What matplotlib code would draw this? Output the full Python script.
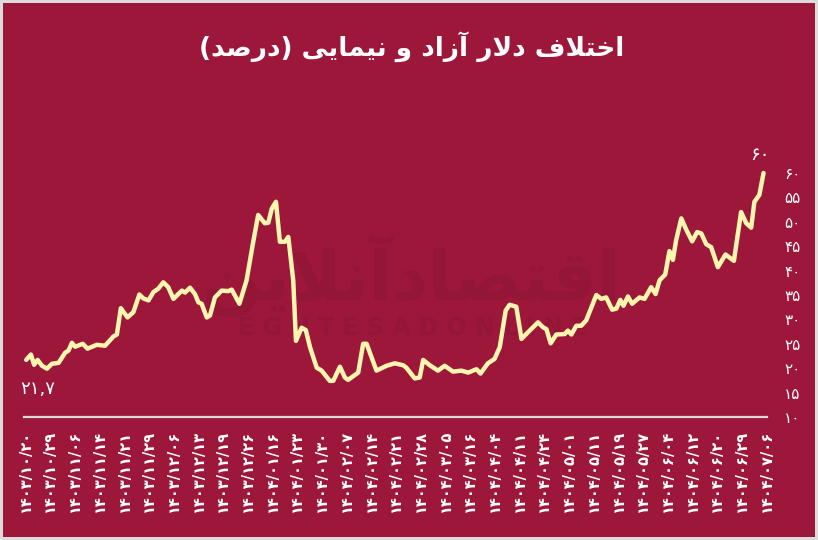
import matplotlib.pyplot as plt
from matplotlib.patches import Rectangle

# Persian text is given in visual order with Arabic presentation forms,
# since matplotlib does no Arabic shaping or right-to-left layout.
title = "(\uFEAA\uFEBB\uFEAD\uFEA9) \uFBFD\uFBFE\uFE8E\uFEE4\uFBFF\uFEE7 \uFEED \uFEA9\uFE8D\uFEAF\uFE81 \uFEAD\uFEFB\uFEA9 \uFED1\uFEFC\uFE98\uFEA7\uFE8D"
watermark_fa = "\uFEE6\uFBFE\uFEFC\uFEE7\uFE81\uFEA9\uFE8E\uFEBC\uFE98\uFED7\uFE8D"
watermark_en = "E G H T E S A D O N L I N E"

dates = ["1403/10/20", "1403/10/29", "1403/11/06", "1403/11/14", "1403/11/21",
         "1403/11/29", "1403/12/06", "1403/12/13", "1403/12/19", "1403/12/26",
         "1404/01/16", "1404/01/23", "1404/01/30", "1404/02/07", "1404/02/14",
         "1404/02/21", "1404/02/28", "1404/03/05", "1404/03/16", "1404/04/04",
         "1404/04/11", "1404/04/24", "1404/05/01", "1404/05/11", "1404/05/19",
         "1404/05/27", "1404/06/04", "1404/06/12", "1404/06/20", "1404/06/29",
         "1404/07/06"]

# position of each reading, in units of the date labels above
pos = [0.04, 0.23, 0.36, 0.50, 0.68, 0.88, 1.08, 1.35, 1.62, 1.75,
       1.89, 2.02, 2.33, 2.52, 2.90, 3.23, 3.57, 3.71, 3.87, 4.14,
       4.38, 4.62, 4.78, 4.99, 5.19, 5.39, 5.59, 5.79, 6.00, 6.34,
       6.47, 6.67, 6.87, 7.01, 7.14, 7.35, 7.48, 7.68, 7.95, 8.22,
       8.36, 8.49, 8.67, 8.96, 9.23, 9.43, 9.70, 9.84, 9.98, 10.15,
       10.31, 10.51, 10.65, 10.85, 10.96, 11.19, 11.36, 11.53, 11.80, 12.00,
       12.33, 12.47, 12.74, 12.94, 13.07, 13.48, 13.68, 13.82, 14.22, 14.63,
       14.96, 15.30, 15.43, 15.77, 15.97, 16.11, 16.38, 16.71, 16.98, 17.32,
       17.66, 17.93, 18.27, 18.43, 18.73, 19.00, 19.21, 19.45, 19.61, 19.88,
       20.09, 20.42, 20.76, 20.96, 21.10, 21.27, 21.50, 21.84, 21.97, 22.11,
       22.31, 22.51, 22.71, 23.12, 23.32, 23.52, 23.76, 23.93, 24.09, 24.22,
       24.40, 24.57, 24.87, 25.07, 25.34, 25.52, 25.68, 25.91, 26.08, 26.22,
       26.35, 26.56, 26.76, 27.00, 27.20, 27.37, 27.57, 27.77, 28.04, 28.35,
       28.69, 28.98, 29.19, 29.39, 29.52, 29.72, 29.89]
# gap between free market and NIMA dollar rate (%)
pct = [21.7, 22.8, 20.7, 21.7, 20.5, 19.9, 20.9, 21.1, 23.2, 23.6,
       25.2, 24.4, 25.0, 24.0, 24.8, 24.6, 26.5, 26.9, 32.3, 30.4,
       31.5, 35.1, 34.3, 33.9, 35.6, 36.3, 37.6, 36.6, 34.2, 35.9,
       35.5, 36.5, 35.2, 33.5, 33.2, 30.4, 30.8, 34.5, 35.9, 35.8,
       36.1, 34.9, 33.2, 38.0, 45.9, 51.4, 49.7, 49.8, 52.7, 54.1,
       45.9, 45.9, 46.9, 38.0, 25.6, 28.3, 27.8, 24.3, 20.1, 19.5,
       17.4, 17.4, 20.3, 18.1, 17.6, 19.1, 25.0, 25.0, 19.5, 20.5,
       21.0, 20.6, 20.1, 17.9, 18.1, 21.7, 20.6, 19.5, 20.5, 19.3,
       19.5, 19.1, 19.8, 18.9, 21.0, 21.9, 24.3, 31.8, 33.0, 32.6,
       26.0, 27.7, 29.4, 28.4, 28.0, 25.1, 26.9, 27.0, 27.7, 26.9,
       28.7, 28.7, 29.8, 35.0, 34.2, 34.5, 32.0, 32.2, 34.0, 32.8,
       34.7, 33.2, 34.5, 34.2, 36.6, 35.2, 38.0, 39.2, 44.0, 42.2,
       46.2, 50.7, 48.4, 46.0, 47.9, 47.6, 45.4, 44.8, 40.7, 43.3,
       42.0, 52.0, 49.7, 48.8, 54.1, 55.5, 60.0]
yticks = [10, 15, 20, 25, 30, 35, 40, 45, 50, 55, 60]

fa = str.maketrans("0123456789", "۰۱۲۳۴۵۶۷۸۹")
def to_fa(s):
    return str(s).translate(fa)

bg = "#9c1739"
line_c = "#fff6b0"

fig = plt.figure(figsize=(8.18, 5.4), dpi=100)
fig.patch.set_facecolor("#dcdcdc")
fig.patches.append(Rectangle((3 / 818, 3 / 540), 812 / 818, 534 / 540,
                             transform=fig.transFigure, facecolor=bg,
                             edgecolor="none", zorder=-2))

# faint logo behind the chart
fig.text(0.503, 0.49, watermark_fa, fontsize=50, fontweight="bold",
         color="#931637", ha="center", va="center", zorder=-1)
fig.text(0.505, 0.392, watermark_en, fontsize=17, fontweight="bold",
         color="#931637", ha="center", va="center", zorder=-1)

ax = fig.add_axes([24 / 818, 123 / 540, 743.5 / 818, 244 / 540])
ax.set_zorder(2)
ax.set_facecolor("none")
ax.plot(pos, pct, color=line_c, lw=3.2, solid_joinstyle="round",
        solid_capstyle="round", clip_on=False, zorder=3)

ax.set_xlim(-0.05, 30.05)
ax.set_ylim(10, 60)
for s in ["top", "left", "right"]:
    ax.spines[s].set_visible(False)
ax.spines["bottom"].set_color("#d9d9d9")
ax.spines["bottom"].set_linewidth(1.6)

ax.set_xticks(range(len(dates)))
ax.set_xticklabels([to_fa(d) for d in dates], rotation=90, color="white",
                   fontsize=10.5, fontweight="bold")
ax.tick_params(axis="x", length=0, pad=9)

ax.yaxis.tick_right()
ax.set_yticks(yticks)
ax.set_yticklabels([to_fa(v) for v in yticks], color="white", fontsize=11)
ax.tick_params(axis="y", length=0, pad=12)

ax.annotate(to_fa("21,7"), (pos[0], pct[0]), xytext=(8, -21),
            textcoords="offset points", ha="center", va="center",
            color="white", fontsize=13, annotation_clip=False)
ax.annotate(to_fa("60"), (pos[-1], pct[-1]), xytext=(-3, 13),
            textcoords="offset points", ha="center", va="center",
            color="white", fontsize=13, annotation_clip=False)

fig.text(0.503, 0.913, title, fontsize=19, fontweight="bold", color="white",
         ha="center", va="center")

fig.savefig("out.png", dpi=100, facecolor=fig.get_facecolor())
